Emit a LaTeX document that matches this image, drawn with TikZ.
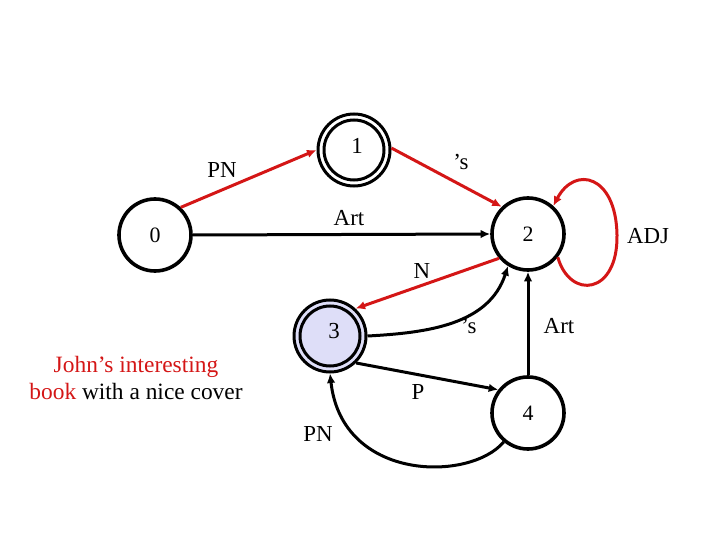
\documentclass[tikz,border=0pt]{standalone}
\usepackage{fontspec}
\setmainfont{Liberation Serif}
\usetikzlibrary{arrows.meta}
\definecolor{arcred}{RGB}{212,22,22}
\definecolor{lav}{RGB}{222,222,248}
\tikzset{
  state/.style={circle, draw=black, line width=3.6bp, minimum size=72bp, inner sep=0pt, font=\fontsize{22}{24}\selectfont},
  accstate/.style={circle, draw=black, line width=3bp, minimum size=72bp, inner sep=0pt, font=\fontsize{22}{24}\selectfont},
  inner/.style={draw=black, line width=3bp},
  arc/.style={line width=3bp, -{Latex[length=9.5bp,width=8.5bp]}},
  redarc/.style={arc, draw=arcred, -{Latex[length=9.5bp,width=8.5bp,color=arcred]}},
  lbl/.style={font=\fontsize{23}{25}\selectfont, inner sep=0pt},
}
\begin{document}
\begin{tikzpicture}[x=1bp,y=-1bp]
\useasboundingbox (0,0) rectangle (720,540);
% states
\node[state] (n0) at (155,235) {0};
\node[accstate] (n1) at (354,150) {};
\draw[inner] (n1.center) circle (30);
\node[lbl] (t1) at (357,146) {1};
\node[state] (n2) at (528,234) {2};
\node[accstate, fill=lav] (n3) at (330,336) {};
\draw[inner] (n3.center) circle (30);
\node[lbl] (t3) at (334,331) {3};
\node[state] (n4) at (528,413) {4};
% arcs
\draw[redarc] (n0.47) -- (n1.west);
\draw[redarc] (n1.3) -- (n2.134);
\draw[arc] (n0.east) -- (n2.west);
\draw[redarc] (n2.-140) -- (n3.47);
\draw[arc] (n3.east) to[out=3, in=-108] (n2.-122);
\draw[arc] (n4.north) -- (n2.south);
\draw[arc] (n3.-46) -- (n4.142);
\draw[arc] (n4.-130) .. controls (470,482) and (342,482) .. (n3.-90);
\draw[redarc] (n2.-38) .. controls (570,300) and (618,295) .. (617,235) .. controls (616,175) and (575,165) .. (n2.48);
% labels
\node[lbl] (lPN) at (222,170) {PN};
\node[lbl] (lS1) at (461,162) {’s};
\node[lbl] (lArt) at (349,218) {Art};
\node[lbl] (lADJ) at (648,236) {ADJ};
\node[lbl] (lN) at (422,271) {N};
\node[lbl] (lS2) at (469,326) {’s};
\node[lbl] (lArt2) at (559,326) {Art};
\node[lbl] (lP) at (418,392) {P};
\node[lbl] (lPN2) at (318,434) {PN};
\node[font=\fontsize{23.5}{28}\selectfont, align=center, inner sep=0pt] (ex) at (136,378)
  {\textcolor{arcred}{John’s interesting}\\\textcolor{arcred}{book} with a nice cover};
\end{tikzpicture}
\end{document}
